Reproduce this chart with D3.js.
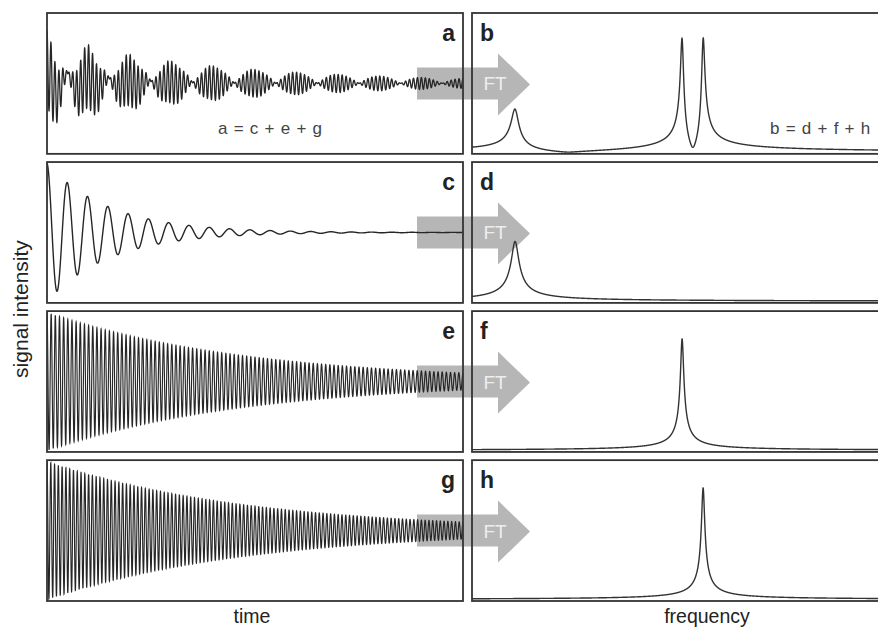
<!DOCTYPE html>
<html>
<head>
<meta charset="utf-8">
<script src="https://cdn.jsdelivr.net/npm/d3@7"></script>
<style>
  html, body { margin: 0; padding: 0; background: #fff; }
  svg { display: block; font-family: "Liberation Sans", Arial, sans-serif; }
</style>
</head>
<body>
<div id="chart"></div>
<script>
const CANVAS = { w: 878, h: 627 };

// --- DATA ---
const timeLabels = ["a", "c", "e", "g"];
const freqLabels = ["b", "d", "f", "h"];
const compNames = ["c", "e", "g"];
const compCycles = [20.5, 100, 110];   // oscillations per time window
const compDecay = [0.15, 0.48, 0.48];  // 1/e decay time, fraction of window
const compWidth = [1.7, 0.75, 0.75];   // spectral half width (freq units)
const compPeak = [0.43, 0.80, 0.80];   // peak height in d, f, h
const sumPeak = [0.31, 0.81, 0.81];    // peak height of each line in b
const sumWeight = [0.7, 1, 1];         // weights of c, e, g in a
const freqMax = 198;
const sumLabels = ["a = c + e + g", "b = d + f + h"];
const axisLabels = { y: "signal intensity", xLeft: "time", xRight: "frequency" };

const N_T = 8000, N_F = 6000;
const tSamples = d3.range(N_T + 1).map(i => i / N_T);
const fSamples = d3.range(N_F + 1).map(i => i * freqMax / N_F);

// --- SCALES ---
const rows = d3.scaleBand().domain(d3.range(4)).range([13, 601]).paddingInner(0.055);
const xTime = d3.scaleLinear().domain([0, 1]).range([47, 463]);
const xFreq = d3.scaleLinear().domain([0, freqMax]).range([472, 888]);

// damped cosine of component k
const sig = (k, t) => Math.cos(2 * Math.PI * compCycles[k] * t) * Math.exp(-t / compDecay[k]);
// complex lorentzian of component k with peak height h
const lor = (k, f, h) => {
    const g = compWidth[k], d = f - compCycles[k], den = g * g + d * d;
    return [h * g * g / den, -h * g * d / den];
};

const timeSeries = [
    tSamples.map(t => [t, d3.sum(compNames, (c, k) => sumWeight[k] * sig(k, t))]),
    ...compNames.map((c, k) => tSamples.map(t => [t, sig(k, t)]))
];
const freqSeries = [
    fSamples.map(f => {
        const z = compNames.map((c, k) => lor(k, f, sumPeak[k]));
        return [f, Math.hypot(d3.sum(z, v => v[0]), d3.sum(z, v => v[1]))];
    }),
    ...compNames.map((c, k) => fSamples.map(f => [f, Math.hypot(...lor(k, f, compPeak[k]))]))
];

// --- DRAWING ---
const svg = d3.select("#chart").append("svg")
    .attr("width", CANVAS.w).attr("height", CANVAS.h)
    .attr("viewBox", `0 0 ${CANVAS.w} ${CANVAS.h}`);

svg.append("rect").attr("width", CANVAS.w).attr("height", CANVAS.h).attr("fill", "#fff");

const defs = svg.append("defs");
const arrowLine = d3.line();
const timeWidth = [1.3, 1.4, 1.15, 1.15];

d3.range(4).forEach(i => {
    const top = rows(i), bot = top + rows.bandwidth(), mid = (top + bot) / 2;

    // FT arrow behind everything
    const shaft = 16, head = 30, x0 = 417, x1 = 498, x2 = 530;
    svg.append("path")
        .attr("d", arrowLine([[x0, mid - shaft], [x1, mid - shaft], [x1, mid - head], [x2, mid + 1],
            [x1, mid + head + 2], [x1, mid + shaft], [x0, mid + shaft]]) + "Z")
        .attr("fill", "#b6b6b6");
    svg.append("text")
        .attr("x", 495).attr("y", mid + 7)
        .attr("text-anchor", "middle")
        .attr("font-size", 19)
        .attr("fill", "#eee")
        .text("FT");

    // clip paths
    defs.append("clipPath").attr("id", `clipT${i}`).append("rect")
        .attr("x", xTime(0)).attr("y", top).attr("width", xTime(1) - xTime(0)).attr("height", bot - top);
    defs.append("clipPath").attr("id", `clipF${i}`).append("rect")
        .attr("x", xFreq(0)).attr("y", top).attr("width", xFreq(freqMax) - xFreq(0)).attr("height", bot - top);

    // time domain
    const yT = d3.scaleLinear().domain(i === 0 ? [-3.6, 3.6] : [-1.02, 1.02]).range([bot, top]);
    svg.append("path")
        .datum(timeSeries[i])
        .attr("clip-path", `url(#clipT${i})`)
        .attr("d", d3.line().x(d => xTime(d[0])).y(d => yT(d[1])))
        .attr("fill", "none")
        .attr("stroke", "#262626")
        .attr("stroke-width", timeWidth[i]);

    // frequency domain
    const yF = d3.scaleLinear().domain([0, 1]).range([bot - 1.5, top]);
    svg.append("path")
        .datum(freqSeries[i])
        .attr("clip-path", `url(#clipF${i})`)
        .attr("d", d3.line().x(d => xFreq(d[0])).y(d => yF(d[1])))
        .attr("fill", "none")
        .attr("stroke", "#333")
        .attr("stroke-width", 1.4);

    // frames
    [[xTime(0), xTime(1)], [xFreq(0), xFreq(freqMax)]].forEach(([l, r]) => {
        svg.append("rect")
            .attr("x", l).attr("y", top).attr("width", r - l).attr("height", bot - top)
            .attr("fill", "none").attr("stroke", "#333").attr("stroke-width", 1.8);
    });

    // panel letters
    svg.append("text")
        .attr("x", 455).attr("y", top + 28)
        .attr("text-anchor", "end")
        .attr("font-size", 23).attr("font-weight", "bold").attr("fill", "#222")
        .text(timeLabels[i]);
    svg.append("text")
        .attr("x", 480).attr("y", top + 28)
        .attr("font-size", 23).attr("font-weight", "bold").attr("fill", "#222")
        .text(freqLabels[i]);
});

// sum equations
svg.append("text")
    .attr("x", 270).attr("y", 134)
    .attr("text-anchor", "middle")
    .attr("font-size", 17).attr("word-spacing", 1.5).attr("fill", "#444")
    .text(sumLabels[0]);
svg.append("text")
    .attr("x", 770).attr("y", 134)
    .attr("font-size", 17).attr("word-spacing", 1.5).attr("fill", "#444")
    .text(sumLabels[1]);

// axis labels
svg.append("text")
    .attr("transform", "translate(28,309) rotate(-90)")
    .attr("text-anchor", "middle")
    .attr("font-size", 21).attr("fill", "#222")
    .text(axisLabels.y);
svg.append("text")
    .attr("x", 252).attr("y", 623)
    .attr("text-anchor", "middle")
    .attr("font-size", 19.5).attr("fill", "#222")
    .text(axisLabels.xLeft);
svg.append("text")
    .attr("x", 707).attr("y", 623)
    .attr("text-anchor", "middle")
    .attr("font-size", 19.5).attr("fill", "#222")
    .text(axisLabels.xRight);
</script>
</body>
</html>
